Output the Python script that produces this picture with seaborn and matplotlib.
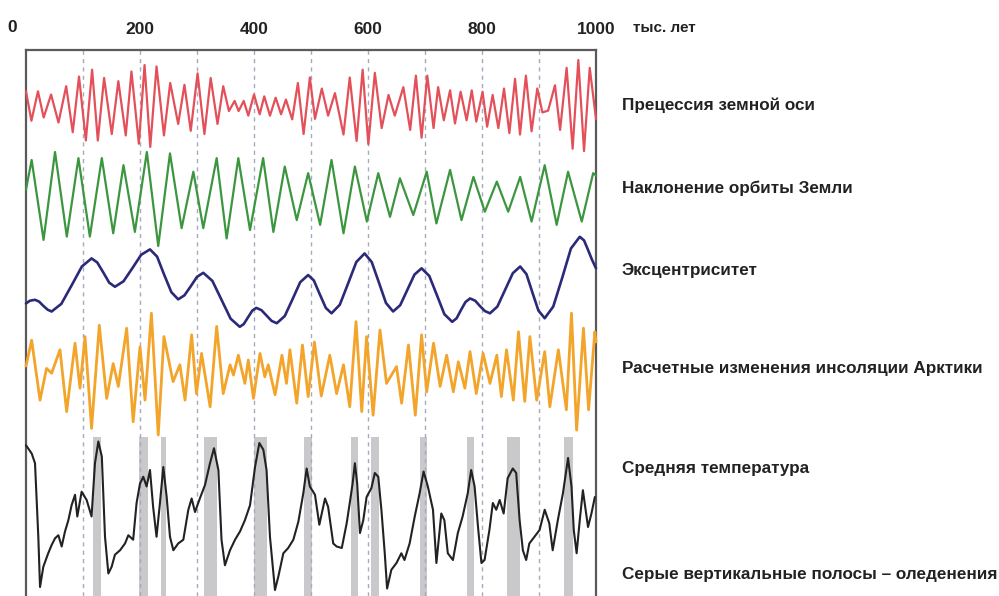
import seaborn as sns
import matplotlib.pyplot as plt

sns.set_style("white")
plt.rcParams['font.family'] = ['Liberation Sans', 'DejaVu Sans']

# values: time in thousand years, relative value (-1..1)
prec_t = [0, 9.5, 21, 31, 44, 57, 70.5, 82, 93, 105, 116, 126, 137, 150.5, 162, 175, 185, 198, 208, 218,
          229, 242, 253, 267, 278, 289, 301, 313, 324, 336, 346, 356, 366, 373, 382, 390, 400, 410, 418, 428,
          438, 447.5, 456, 467, 477, 487, 498, 507, 519, 530, 542, 557, 568, 580, 590.6, 600.6, 612, 624, 636, 647,
          662, 674, 684, 694, 704, 715, 723, 733, 744, 752.6, 762.5, 773, 782, 790, 801, 809, 818.7, 828.7, 838.6, 848,
          858, 866.7, 877, 887, 897, 906, 916, 928, 937, 948.5, 959, 969, 979, 989, 1000]
prec_v = [0.32, -0.32, 0.32, -0.25, 0.25, -0.36, 0.43, -0.57, 0.64, -0.75, 0.79, -0.75, 0.61, -0.61, 0.54, -0.64, 0.75, -0.82, 0.89, -0.89,
          0.86, -0.64, 0.5, -0.39, 0.46, -0.54, 0.71, -0.61, 0.61, -0.39, 0.43, -0.11, 0.11, -0.11, 0.11, -0.21, 0.25, -0.18, 0.21, -0.21,
          0.18, -0.18, 0.14, -0.29, 0.5, -0.61, 0.62, -0.28, 0.38, -0.21, 0.28, -0.62, 0.62, -0.76, 0.79, -0.83, 0.72, -0.48, 0.24, -0.21,
          0.41, -0.52, 0.66, -0.69, 0.66, -0.48, 0.41, -0.31, 0.34, -0.38, 0.31, -0.31, 0.34, -0.34, 0.31, -0.45, 0.24, -0.48, 0.38, -0.59,
          0.59, -0.62, 0.66, -0.55, 0.38, -0.14, -0.1, 0.45, -0.52, 0.83, -0.93, 1.0, -0.98, 0.83, -0.28]

obl_t = [0, 9.9, 30.8, 50.9, 71.6, 92, 112, 133, 153, 171, 191, 212, 232, 252.6, 273, 293.6, 311, 334.5, 352, 372.5,
         393, 416, 434, 454, 475, 495, 516, 536, 557, 577, 598, 618, 638.6, 656, 679.5, 703, 720, 744, 764, 785,
         805, 826, 846, 867, 887, 910, 931, 951, 975, 995, 1000]
obl_v = [0.2, 0.83, -0.87, 1.0, -0.8, 0.87, -0.8, 0.87, -0.73, 0.72, -0.7, 1.0, -1.0, 0.97, -0.62, 0.58, -0.62, 0.87, -0.84, 0.87,
         -0.66, 0.87, -0.7, 0.69, -0.45, 0.55, -0.55, 0.83, -0.73, 0.69, -0.48, 0.55, -0.38, 0.44, -0.34, 0.58, -0.52, 0.62, -0.45, 0.47,
         -0.27, 0.37, -0.27, 0.47, -0.48, 0.72, -0.55, 0.58, -0.48, 0.55, 0.5]

ecc_t = [0, 7, 15.8, 23, 30, 38, 45, 62, 80, 98, 115, 125, 135.5, 146, 156, 171, 187, 202, 217.5, 230,
         242, 255, 267, 278, 289, 300, 311, 327, 343, 359, 375, 382, 389.5, 397, 404, 413, 422, 431, 440, 454,
         467.5, 481, 495, 505, 515.5, 526, 536, 550.5, 565, 579.5, 594, 606.5, 619, 631.5, 644, 656.5, 669, 681.5, 694, 707.5,
         721, 734, 747.7, 755.5, 763, 771, 779, 788, 796.5, 805, 814, 827, 840.5, 854, 867, 878, 888.5, 899, 910, 925,
         941, 956, 971.5, 979, 986, 993, 1000]
ecc_v = [-0.52, -0.46, -0.44, -0.48, -0.57, -0.66, -0.70, -0.53, -0.12, 0.30, 0.48, 0.39, 0.17, -0.06, -0.15, -0.03, 0.27, 0.56, 0.68, 0.52,
         0.13, -0.27, -0.43, -0.34, -0.14, 0.07, 0.16, -0.02, -0.44, -0.86, -1.04, -0.98, -0.83, -0.68, -0.62, -0.67, -0.79, -0.91, -0.96, -0.80,
         -0.43, -0.05, 0.11, -0.01, -0.32, -0.62, -0.74, -0.55, -0.08, 0.40, 0.59, 0.40, -0.05, -0.51, -0.70, -0.56, -0.22, 0.12, 0.26, 0.09,
         -0.34, -0.76, -0.93, -0.85, -0.67, -0.49, -0.41, -0.46, -0.58, -0.69, -0.74, -0.59, -0.22, 0.15, 0.30, 0.13, -0.28, -0.68, -0.85, -0.59,
         0.06, 0.70, 0.96, 0.88, 0.67, 0.45, 0.26]

ins_t = [0, 9.9, 24.6, 36, 45, 59.6, 71.3, 86, 94.7, 103.5, 115, 128.6, 141.5, 153, 162, 176.6, 188, 200, 208.8, 220,
         232, 242, 258, 270, 279, 290.6, 299, 308, 323, 334.5, 346, 358, 364, 372.5, 384, 390, 399, 410.5, 419, 425,
         437, 449, 457, 463, 475, 485, 495, 506, 518, 533, 545, 557, 568, 579, 589, 597.5, 609, 621, 632.5, 650,
         659, 671, 683, 694, 703, 715, 726.5, 738, 749.7, 758.5, 770, 779, 790, 802, 814, 826, 834, 843, 855, 864,
         875, 884, 896, 910, 919, 934, 948, 957, 966, 978, 987, 998, 1000]
ins_v = [0.1, 0.53, -0.47, 0.06, -0.02, 0.37, -0.66, 0.48, -0.27, 0.59, -0.94, 0.78, -0.44, 0.14, -0.24, 0.73, -0.83, 0.42, -0.47, 0.98,
         -1.05, 0.59, -0.16, 0.12, -0.47, 0.62, -0.36, 0.31, -0.58, 0.76, -0.36, 0.12, -0.05, 0.28, -0.19, 0.2, -0.44, 0.31, -0.08, 0.12,
         -0.38, 0.28, -0.19, 0.37, -0.52, 0.45, -0.41, 0.5, -0.4, 0.28, -0.36, 0.12, -0.58, 0.84, -0.66, 0.59, -0.72, 0.7, -0.19, 0.09,
         -0.52, 0.45, -0.72, 0.62, -0.33, 0.48, -0.24, 0.28, -0.33, 0.17, -0.27, 0.34, -0.36, 0.31, -0.19, 0.28, -0.41, 0.37, -0.47, 0.67,
         -0.49, 0.59, -0.47, 0.34, -0.58, 0.37, -0.63, 0.98, -0.97, 0.73, -0.63, 0.67, 0.5]

temp_t = [0, 10, 15.8, 21.6, 24.6, 30.4, 39, 45, 51, 56.8, 62.6, 68.4, 74.3, 80, 86, 90, 97.6, 106.4, 115, 121,
          126.9, 133, 138.6, 144.5, 150.3, 156, 165, 173.7, 179.5, 188, 194, 200, 205.8, 211.6, 217.5, 223, 229, 235, 240.9, 246.8,
          252.6, 258.5, 267, 276, 284.8, 290.6, 296.5, 305, 314, 322.8, 329.8, 337.5, 343, 349, 357.9, 366.7, 375.4, 384, 393, 401.8,
          409.4, 416.4, 422, 428, 436.8, 442.7, 451.5, 460, 469, 477.8, 486.5, 492.4, 498, 507, 514.6, 524.6, 530, 539, 545, 554,
          562.6, 568.4, 573, 577, 581, 585.9, 591.7, 597.5, 606, 612, 618, 623.5, 629.4, 633.5, 641, 650, 658.5, 664, 673, 682,
          690.6, 697.5, 705, 714, 720, 728.6, 734, 740, 749, 757.6, 766, 775, 781, 787, 793, 799, 804.5, 813, 819, 825,
          831, 838, 845, 854, 860, 866, 871.7, 877.5, 883, 892, 901, 910, 918, 924, 933, 942, 951, 957, 961, 966,
          971.5, 977, 986, 992, 998]
temp_v = [0.93, 0.82, 0.69, -0.29, -0.96, -0.69, -0.51, -0.4, -0.31, -0.27, -0.42, -0.22, -0.07, 0.13, 0.27, -0.02, 0.31, 0.2, -0.02, 0.69,
          0.98, 0.78, -0.29, -0.78, -0.69, -0.53, -0.47, -0.38, -0.27, -0.33, 0.16, 0.42, 0.51, 0.38, 0.6, 0.11, -0.29, 0.16, 0.64, 0.24,
          -0.29, -0.47, -0.38, -0.33, 0.07, 0.22, 0.04, 0.22, 0.4, 0.69, 0.89, 0.6, -0.33, -0.67, -0.47, -0.33, -0.22, -0.07, 0.13, 0.64,
          0.96, 0.87, 0.6, -0.29, -1.0, -0.82, -0.51, -0.44, -0.33, -0.09, 0.29, 0.62, 0.38, 0.27, -0.13, 0.22, 0.11, -0.38, -0.42, -0.44,
          -0.11, 0.18, 0.42, 0.69, 0.42, -0.24, -0.07, 0.24, 0.36, 0.56, 0.51, 0.07, -0.51, -0.98, -0.73, -0.64, -0.51, -0.6, -0.38, -0.02,
          0.29, 0.58, 0.38, 0.07, -0.64, 0.02, -0.07, -0.51, -0.6, -0.24, -0.02, 0.29, 0.6, 0.38, -0.16, -0.64, -0.6, -0.2, 0.16, 0.07,
          0.2, 0.02, 0.49, 0.62, 0.56, -0.07, -0.47, -0.6, -0.38, -0.29, -0.2, 0.07, -0.11, -0.47, -0.07, 0.29, 0.76, 0.38, -0.2, -0.51,
          -0.07, 0.33, -0.16, 0.02, 0.24]

# glaciations (grey bands), thousand years
glac_start = [117, 199, 237, 312, 400, 488, 571, 606, 691, 773, 843, 943]
glac_end = [132, 214, 246, 335, 422, 502, 582, 619, 703, 786, 867, 960]

grid_years = [100, 200, 300, 400, 500, 600, 700, 800, 900]
tick_years = [200, 400, 600, 800, 1000]

labels = ["Прецессия земной оси", "Наклонение орбиты Земли", "Эксцентриситет",
          "Расчетные изменения инсоляции Арктики", "Средняя температура",
          "Серые вертикальные полосы – оледенения"]

W, H = 999, 596
fig = plt.figure(figsize=(W / 100, H / 100), dpi=100)
left, width = 26 / W, 570 / W

ax = fig.add_axes([left, 0, width, 546 / H])
ax.set_xlim(0, 1000)
ax.set_ylim(0, 1)
for g in grid_years:
    ax.axvline(g, color="#a6aabb", lw=1.0, ls=(0, (3, 3)), zorder=1)
for a, b in zip(glac_start, glac_end):
    ax.axvspan(a, b, ymin=0, ymax=0.291, color="#c9c9cb", lw=0, zorder=0)
for side in ["top", "left", "right"]:
    ax.spines[side].set_color("#5a5a5a")
    ax.spines[side].set_linewidth(1.6)
ax.spines["bottom"].set_visible(False)
ax.set_yticks([])
ax.xaxis.tick_top()
ax.set_xticks(tick_years)
ax.set_xticklabels([str(t) for t in tick_years], fontsize=12.5, fontweight="bold", color="#222222")
ax.tick_params(axis="x", length=0, pad=9)
fig.text(12 / W, 1 - 28 / H, "0", ha="center", va="center", fontsize=12.5, fontweight="bold", color="#222222")
fig.text(633 / W, 1 - 28 / H, "тыс. лет", ha="left", va="center", fontsize=11, fontweight="bold", color="#222222")


def track(top, bottom, t, v, color, lw):
    a = fig.add_axes([left, 1 - bottom / H, width, (bottom - top) / H])
    a.patch.set_alpha(0)
    sns.lineplot(x=t, y=v, ax=a, color=color, lw=lw, sort=False, estimator=None, clip_on=False)
    a.set_xlim(0, 1000)
    a.set_ylim(-1, 1)
    a.axis("off")


track(60, 152, prec_t, prec_v, "#e4505a", 1.6)
track(152, 246, obl_t, obl_v, "#3c9640", 1.6)
track(235, 325, ecc_t, ecc_v, "#2b2a78", 1.9)
track(312, 432, ins_t, ins_v, "#f3a42a", 2.0)
track(440, 590, temp_t, temp_v, "#222222", 1.5)

label_y = [105, 188, 270, 368, 468, 575]
for txt, y in zip(labels, label_y):
    fig.text(622 / W, 1 - y / H, txt, ha="left", va="center", fontsize=12.3, fontweight="bold", color="#222222")

plt.savefig("out.png", dpi=100)
plt.close()
